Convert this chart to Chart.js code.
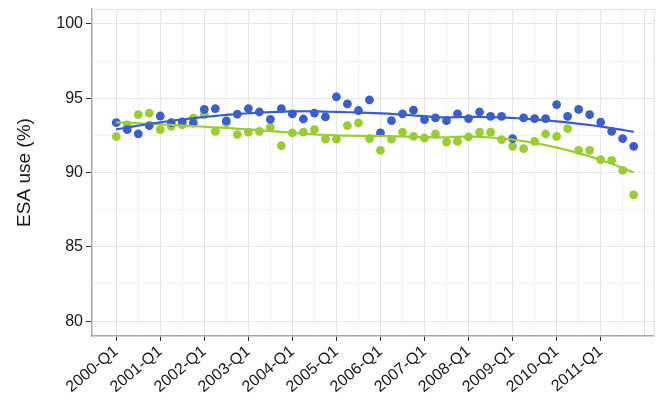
<!DOCTYPE html>
<html>
<head>
<meta charset="utf-8">
<script src="https://cdn.jsdelivr.net/npm/chart.js@4"></script>
<style>
  html, body { margin: 0; padding: 0; background: #fff; }
  #wrap { width: 659px; height: 406px; }
</style>
</head>
<body>
<div id="wrap"><canvas id="esaChart"></canvas></div>
<script>
// Quarterly ESA use, two groups, 2000-Q1 .. 2011-Q4
const years = [2000, 2001, 2002, 2003, 2004, 2005, 2006, 2007, 2008, 2009, 2010, 2011];
const qNames = ['Q1', 'Q2', 'Q3', 'Q4'];
const quarters = years.flatMap(y => qNames.map(q => y + '-' + q));

const esaBlue = [
    93.35, 92.88, 92.60, 93.16, 93.80, 93.35, 93.40, 93.33,
    94.24, 94.30, 93.47, 93.92, 94.30, 94.07, 93.58, 94.30,
    93.94, 93.60, 94.00, 93.74, 95.09, 94.61, 94.17, 94.89,
    92.66, 93.49, 93.94, 94.19, 93.56, 93.67, 93.49, 93.94,
    93.63, 94.07, 93.78, 93.78, 92.28, 93.67, 93.63, 93.63,
    94.57, 93.78, 94.24, 93.90, 93.38, 92.77, 92.28, 91.76
];
const esaGreen = [
    92.42, 93.20, 93.90, 94.00, 92.88, 93.10, 93.20, 93.65,
    93.90, 92.77, 93.33, 92.55, 92.72, 92.77, 93.04, 91.80,
    92.66, 92.72, 92.88, 92.25, 92.25, 93.16, 93.33, 92.28,
    91.49, 92.25, 92.72, 92.43, 92.32, 92.59, 92.05, 92.09,
    92.39, 92.72, 92.72, 92.21, 91.76, 91.60, 92.09, 92.59,
    92.43, 92.95, 91.49, 91.49, 90.86, 90.81, 90.14, 88.49
];
const yTicks = [80, 82.5, 85, 87.5, 90, 92.5, 95, 97.5, 100];

const BLUE = '#3a5fcd';
const GREEN = '#9acd32';

// local quadratic loess (tricube weights), evaluated on a grid
function loess(xs, ys, span, grid) {
    const n = xs.length;
    const q = Math.floor(n * span);
    return grid.map(x0 => {
        const d = xs.map(x => Math.abs(x - x0));
        const dmax = [...d].sort((a, b) => a - b)[q - 1] * 1.0000001;
        const s = [0, 0, 0, 0, 0];
        const t = [0, 0, 0];
        for (let i = 0; i < n; i++) {
            const u = d[i] / dmax;
            if (u >= 1) continue;
            const w = Math.pow(1 - u * u * u, 3);
            const dx = xs[i] - x0;
            let p = 1;
            for (let k = 0; k < 5; k++) {
                s[k] += w * p;
                if (k < 3) t[k] += w * p * ys[i];
                p *= dx;
            }
        }
        // solve [s0 s1 s2; s1 s2 s3; s2 s3 s4] b = t, b0 is the fit at x0
        const det3 = (a, b, c, d, e, f, g, h, k) => a * (e * k - f * h) - b * (d * k - f * g) + c * (d * h - e * g);
        const D = det3(s[0], s[1], s[2], s[1], s[2], s[3], s[2], s[3], s[4]);
        const D0 = det3(t[0], s[1], s[2], t[1], s[2], s[3], t[2], s[3], s[4]);
        return { x: x0, y: D0 / D };
    });
}

const xIdx = quarters.map((_, i) => i);
const smoothGrid = [];
for (let i = 0; i <= 80; i++) smoothGrid.push(i * (quarters.length - 1) / 80);

const toPoints = arr => arr.map((v, i) => ({ x: i, y: v }));

// thin light frame on the top and right of the panel
const panelFrame = {
    id: 'panelFrame',
    afterDraw(chart) {
        const { ctx, chartArea: a } = chart;
        ctx.save();
        ctx.strokeStyle = '#dedede';
        ctx.lineWidth = 1;
        ctx.beginPath();
        ctx.moveTo(a.left, a.top + 0.5);
        ctx.lineTo(a.right - 0.5, a.top + 0.5);
        ctx.lineTo(a.right - 0.5, a.bottom);
        ctx.stroke();
        ctx.restore();
    }
};

const ctx = document.getElementById('esaChart').getContext('2d');
new Chart(ctx, {
    type: 'scatter',
    data: {
        datasets: [
            {
                data: loess(xIdx, esaBlue, 0.75, smoothGrid),
                showLine: true,
                borderColor: BLUE,
                borderWidth: 2.2,
                pointRadius: 0,
                tension: 0
            },
            {
                data: loess(xIdx, esaGreen, 0.75, smoothGrid),
                showLine: true,
                borderColor: GREEN,
                borderWidth: 2.2,
                pointRadius: 0,
                tension: 0
            },
            {
                data: toPoints(esaBlue),
                backgroundColor: BLUE,
                borderWidth: 0,
                pointRadius: 4.4
            },
            {
                data: toPoints(esaGreen),
                backgroundColor: GREEN,
                borderWidth: 0,
                pointRadius: 4.4
            }
        ]
    },
    options: {
        responsive: true,
        maintainAspectRatio: false,
        animation: false,
        devicePixelRatio: 1,
        layout: { padding: { top: 9, right: 0, left: 0, bottom: 0 } },
        plugins: {
            legend: { display: false },
            tooltip: { enabled: false }
        },
        scales: {
            x: {
                type: 'linear',
                min: -2.2,
                max: 48.9,
                afterBuildTicks: scale => {
                    const ticks = xIdx.filter(i => i % 2 === 0).concat([quarters.length]);
                    scale.ticks = ticks.map(v => ({ value: v }));
                },
                afterFit: scale => {
                    scale.height = 70;
                    scale.paddingLeft = 0;
                    scale.paddingRight = 0;
                },
                border: { color: '#a8a8a8', width: 1.5 },
                grid: {
                    color: c => (c.tick && c.tick.value % 4 === 0) ? '#e6e6e6' : '#f3f3f3',
                    tickColor: c => (c.tick && c.tick.value % 4 === 0 && quarters[c.tick.value]) ? '#333' : 'rgba(0,0,0,0)',
                    tickLength: 5
                },
                ticks: {
                    autoSkip: false,
                    minRotation: 40,
                    maxRotation: 40,
                    padding: 1,
                    color: '#1a1a1a',
                    font: { family: '"Liberation Sans", Arial, sans-serif', size: 16 },
                    callback: v => (v % 4 === 0 && quarters[v]) ? quarters[v] : ''
                }
            },
            y: {
                min: 79,
                max: 101,
                afterBuildTicks: scale => { scale.ticks = yTicks.map(v => ({ value: v })); },
                afterFit: scale => {
                    scale.width = 92;
                    scale.paddingTop = 0;
                    scale.paddingBottom = 0;
                },
                border: { color: '#a8a8a8', width: 1.5 },
                grid: {
                    color: c => (c.tick && c.tick.value % 5 === 0) ? '#e6e6e6' : '#f3f3f3',
                    tickColor: c => (c.tick && c.tick.value % 5 === 0) ? '#333' : 'rgba(0,0,0,0)',
                    tickLength: 6
                },
                ticks: {
                    padding: 3,
                    color: '#1a1a1a',
                    font: { family: '"Liberation Sans", Arial, sans-serif', size: 16 },
                    callback: v => v % 5 === 0 ? v : ''
                },
                title: {
                    display: true,
                    text: 'ESA use (%)',
                    color: '#1a1a1a',
                    font: { family: '"Liberation Sans", Arial, sans-serif', size: 19 },
                    padding: { top: 13, bottom: 0 }
                }
            }
        }
    },
    plugins: [panelFrame]
});
</script>
</body>
</html>
